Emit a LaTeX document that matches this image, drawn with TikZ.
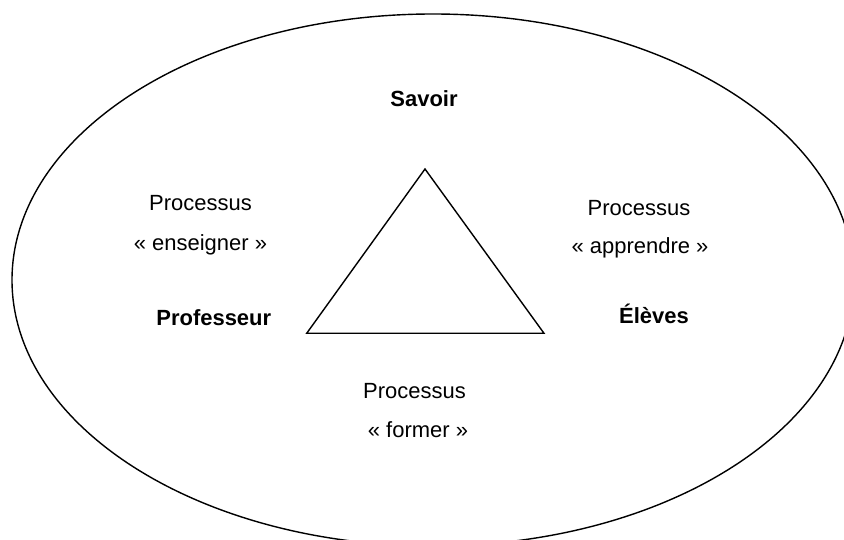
\documentclass[tikz,border=0pt]{standalone}
\usepackage{fontspec}
\setmainfont{Liberation Sans}
\usepackage{tikz}

\begin{document}
\begin{tikzpicture}[line width=0.8pt,
  every node/.style={anchor=base,inner sep=0pt,font=\fontsize{12.5}{15}\selectfont},
  role/.style={font=\fontsize{12.5}{15}\selectfont\bfseries}]

 \useasboundingbox (0,0) rectangle (16.88,10.8);
 \clip (0,0) rectangle (16.88,10.8); % ellipse runs off right and bottom

 \draw (8.66,5.2) ellipse [x radius=8.42,y radius=5.32]; % outer ellipse

% Triangle corners
 \coordinate (top) at (8.5,7.42);
 \coordinate (left) at (6.134,4.134);
 \coordinate (right) at (10.88,4.134);
 \draw [line join=miter] (top) -- (left) -- (right) -- cycle;

% Poles
 \node[role] (savoir) at (8.48,8.66) {Savoir};
 \node[role] (prof) at (4.276,4.286) {Professeur};
 \node[role] (eleves) at (13.08,4.32) {Élèves};

% Processes
 \node (procE) at (4.01,6.586) {Processus};
 \node (enseigner) at (4.01,5.786) {« enseigner »};
 \node (procA) at (12.78,6.486) {Processus};
 \node (apprendre) at (12.8,5.72) {« apprendre »};
 \node (procF) at (8.29,2.82) {Processus};
 \node (former) at (8.36,2.054) {« former »};

\end{tikzpicture}
\end{document}
